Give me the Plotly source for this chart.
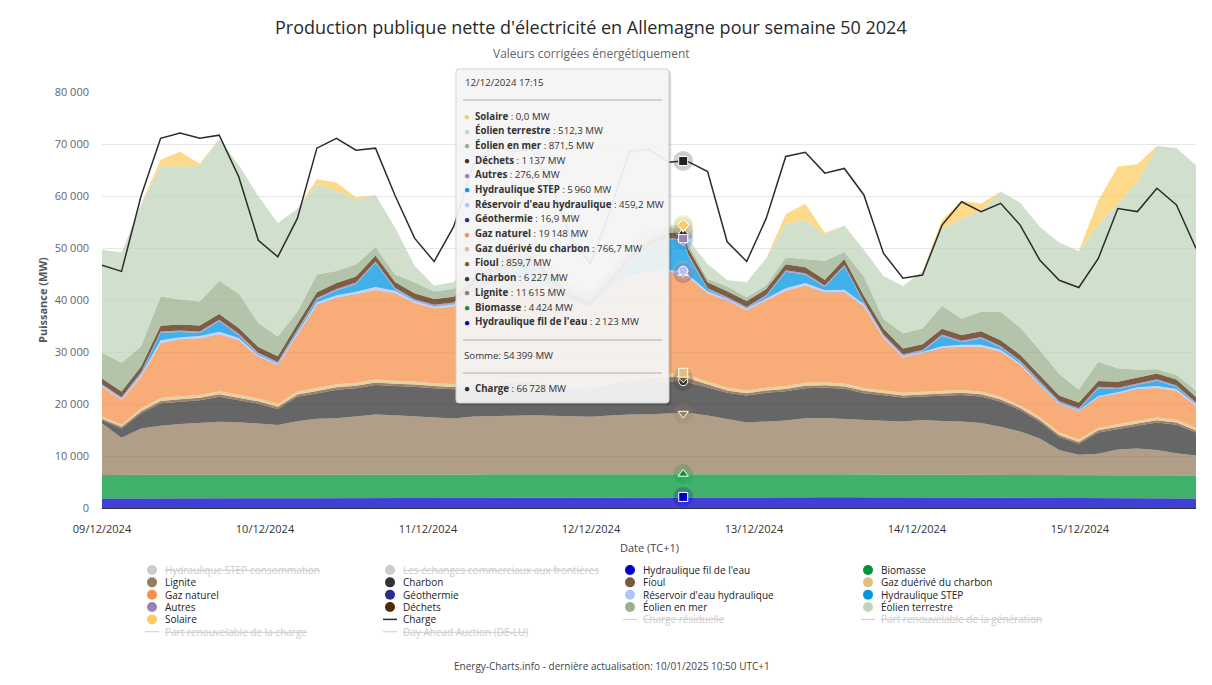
import plotly.graph_objects as go
import pandas as pd

# ---------------- data (MW) ----------------
times = list(pd.date_range("2024-12-09 00:00", "2024-12-16 00:00", freq="3h"))
times.insert(30, pd.Timestamp("2024-12-12 17:15"))
HOVER_INDEX = 30

ror = [1850,1840,1860,1880,1890,1880,1870,1860,1850,1850,1870,1890,1900,1900,1910,1900,1890,
       1900,1920,1960,2000,2020,2030,2040,2050,2060,2080,2100,2110,2120,
       2123.4,
       2120,2110,2100,2090,2090,2080,2070,2060,2050,2040,2020,2000,1990,1980,1970,1960,1950,1940,1930,1920,1910,1900,1890,1880,1870,1860,1850]
bio = [4480,4470,4490,4500,4510,4500,4490,4480,4470,4460,4480,4500,4510,4500,4500,4490,4480,
       4470,4460,4470,4480,4470,4460,4450,4440,4430,4440,4440,4430,4430,
       4424.4,
       4430,4420,4400,4390,4400,4410,4420,4420,4410,4400,4390,4380,4390,4400,4410,4420,4420,4410,4400,4390,4380,4390,4400,4410,4420,4420,4410]
lignite = [9950,7200,8950,9450,9750,9950,10250,10150,9950,9650,10350,10750,10850,11250,11550,11450,11250,
           11050,10850,11150,11250,11250,11350,11250,11150,11050,11250,11450,11500,11600,
           11615.4,
           11750,11250,10550,9950,10150,10350,10750,10850,10650,10450,10350,10250,10550,10350,10250,9950,9250,8350,7050,4850,3950,4150,4950,5150,4850,4250,3850]
charbon = [600,1800,2900,4300,4300,4400,4800,4200,3800,3100,4700,4900,5500,5400,5700,5600,5700,
           5600,5600,5700,5800,5900,5900,5600,5100,5000,5600,6100,6150,6240,
           6227.4,
           5860,5400,5100,5200,5500,5600,5800,5800,5800,5200,4900,4600,4500,4900,5100,5100,4800,4100,3200,2500,2100,4100,4000,4400,5300,5500,4400]
fioul = [300,300,420,450,460,450,460,450,440,430,450,460,470,460,470,460,450,
         440,450,460,470,470,480,470,460,450,470,500,750,820,
         859.7,
         800,500,460,440,450,460,470,460,470,450,430,420,420,430,440,440,430,420,400,380,370,390,400,410,420,410,400]
gazder = [400,400,520,550,560,550,560,550,540,530,550,560,570,560,570,560,550,
          540,550,560,570,570,580,570,560,550,570,600,700,740,
          766.7,
          740,600,560,540,550,560,570,560,570,550,530,520,520,530,540,540,530,520,500,480,470,490,500,510,520,510,500]
gas = [5700,4800,6100,10600,10900,10900,10900,10600,8000,7400,10900,16000,16600,17000,17200,16800,15100,
       14400,14900,16800,18100,18500,18900,17300,15400,14600,17300,19000,19400,19300,
       19148.4,
       18700,17000,16700,15400,16800,18300,18700,17300,17500,15700,10100,6800,7400,8100,8300,8600,8700,7700,6100,5400,5400,5800,5800,6100,5700,5600,4200]
geo = [17,17,17,16,17,17,17,17,17,17,17,16,17,17,17,17,17,
       17,17,17,17,16,17,17,17,17,17,17,17,17,
       16.9,
       17,17,17,17,17,16,17,17,17,17,17,17,17,17,17,17,16,17,17,17,17,17,17,17,17,17,17]
res = [250,200,350,500,450,420,550,400,300,250,400,500,520,500,600,480,350,
       300,380,450,480,470,520,450,350,300,420,480,470,460,
       459.2,
       440,400,320,280,350,480,470,420,500,400,280,220,230,380,350,370,360,330,280,230,220,300,320,330,380,340,270]
step = [0,0,200,1400,1000,600,2000,500,200,100,300,500,900,1500,4600,300,100,
        100,100,1000,2000,2000,3000,1000,200,100,500,2500,4500,5800,
        5960,
        3700,300,100,100,400,3200,1600,600,4500,200,100,100,100,2000,500,1200,400,300,200,100,100,1500,600,500,1000,400,100]
autres = [270,265,275,285,290,285,290,280,275,270,280,285,290,285,290,285,280,
          275,280,285,285,280,285,280,275,270,275,280,278,277,
          276.6,
          276,275,270,268,272,280,285,282,285,278,270,265,266,275,280,282,280,275,270,265,262,268,272,275,278,274,268]
dechets = [1100,1090,1110,1130,1140,1130,1140,1130,1120,1110,1120,1130,1140,1135,1140,1135,1130,
           1120,1125,1135,1140,1140,1145,1140,1130,1120,1125,1135,1138,1138,
           1137.4,
           1135,1130,1120,1115,1120,1130,1135,1130,1135,1125,1115,1105,1100,1110,1120,1125,1120,1115,1110,1100,1095,1105,1110,1115,1120,1115,1105]
offshore = [4930,5530,3930,5630,4830,4630,6330,6630,4630,3830,2330,3430,2330,2330,1630,1430,2100,
            1430,1530,1500,1400,1300,1200,1200,1100,1000,1000,900,900,900,
            871.5,
            800,630,930,730,730,1330,1630,3630,1330,3730,1830,2930,3030,4430,3130,3730,5430,5230,4930,4130,2530,3730,2630,1500,830,930,1230]
onshore = [19800,21200,27300,25000,25600,26100,27300,24700,24400,21800,19800,17300,15400,12500,10000,9000,3200,
           1100,1300,1500,1200,1000,900,1000,900,800,700,600,500,500,
           512.3,
           900,2900,1200,2900,5200,6400,7400,5100,5100,5100,8300,9100,11000,14800,19200,19500,23200,24000,23700,25300,26600,26300,31700,36100,42900,43600,43300]
solar = [0,0,0,1300,2800,400,0,0,0,0,0,1000,1600,400,0,0,0,
         0,0,0,1000,300,0,0,0,0,0,800,500,0,
         0,
         0,0,0,0,0,1900,3200,300,0,0,0,0,0,1700,3500,1300,0,0,0,0,0,4700,7100,3400,0,0,0]
load = [46700,45500,60000,71100,72100,71100,71700,63700,51500,48300,55700,69200,71100,68800,69200,60100,51900,
        47400,54100,66000,69500,68500,69000,62000,52000,47000,57000,68500,69000,66500,
        66728,
        66600,64700,51200,47400,55700,67600,68400,64400,65300,60200,49000,44200,44800,54400,58900,57000,58600,54400,47700,43800,42400,48000,57600,57000,61500,58300,49900]

tick_labels = ["09/12/2024", "10/12/2024", "11/12/2024", "12/12/2024",
               "13/12/2024", "14/12/2024", "15/12/2024"]
y_ticks = [0, 10000, 20000, 30000, 40000, 50000, 60000, 70000, 80000]

# stacking order bottom -> top : (name, values, colour, hover symbol)
series = [
    ("Hydraulique fil de l'eau", ror, "#0000c8", "square"),
    ("Biomasse", bio, "#01953a", "triangle-up"),
    ("Lignite", lignite, "#967e60", "triangle-down"),
    ("Charbon", charbon, "#333333", "circle"),
    ("Fioul", fioul, "#7a5a3c", "diamond"),
    ("Gaz duérivé du charbon", gazder, "#e0c080", "square"),
    ("Gaz naturel", gas, "#f5914b", "triangle-up"),
    ("Géothermie", geo, "#2c2c8c", "triangle-down"),
    ("Réservoir d'eau hydraulique", res, "#aec4ff", "circle"),
    ("Hydraulique STEP", step, "#0095e0", "diamond"),
    ("Autres", autres, "#9a80b8", "square"),
    ("Déchets", dechets, "#4d2a08", "triangle-up"),
    ("Éolien en mer", offshore, "#9bb08d", "triangle-down"),
    ("Éolien terrestre", onshore, "#c0d5bb", "circle"),
    ("Solaire", solar, "#fccc63", "diamond"),
]
LOAD_COLOR = "#2b2b2b"

# ---------------- geometry helpers ----------------
# the page body has an 8 px margin, so the figure is laid out 8 px smaller
PAGE_OFF = 8
PLOT_L, PLOT_R, PLOT_T, PLOT_B = 102, 1196, 92, 508   # plot area on the page
W, H = 1212 - 2 * PAGE_OFF, 685 - 2 * PAGE_OFF
ML = PLOT_L - PAGE_OFF
MT = PLOT_T - PAGE_OFF
MR = W - (PLOT_R - PAGE_OFF)
MB = H - (PLOT_B - PAGE_OFF)
PW, PH = PLOT_R - PLOT_L, PLOT_B - PLOT_T
FONT = "Open Sans"


def fx(x):
    return (x - PLOT_L) / PW


def fy(y):
    return (PLOT_B - y) / PH


def rgba(hexc, a):
    h = hexc.lstrip("#")
    r, g, b = int(h[0:2], 16), int(h[2:4], 16), int(h[4:6], 16)
    return f"rgba({r},{g},{b},{a})"


fig = go.Figure()

for name, vals, col, sym in series:
    fig.add_trace(go.Scatter(
        x=times, y=vals, name=name, stackgroup="gen", mode="lines",
        line=dict(width=0, color=col), fillcolor=rgba(col, 0.75),
        hoverinfo="skip", showlegend=False))

fig.add_trace(go.Scatter(x=times, y=load, name="Charge", mode="lines",
                         line=dict(color=LOAD_COLOR, width=1.5),
                         hoverinfo="skip", showlegend=False))

# hover markers at the tooltip time (stack tops)
hx = times[HOVER_INDEX]
cum = 0
mk_y, mk_c, mk_s = [], [], []
for name, vals, col, sym in series:
    cum += vals[HOVER_INDEX]
    mk_y.append(cum)
    mk_c.append(col)
    mk_s.append(sym)
mk_y.append(load[HOVER_INDEX])
mk_c.append("#222222")
mk_s.append("square")
fig.add_trace(go.Scatter(x=[hx] * len(mk_y), y=mk_y, mode="markers",
                         marker=dict(size=20, color=[rgba(c, 0.22) for c in mk_c],
                                     symbol="circle", line=dict(width=0)),
                         hoverinfo="skip", showlegend=False))
fig.add_trace(go.Scatter(x=[hx] * len(mk_y), y=mk_y, mode="markers",
                         marker=dict(size=9, color=mk_c, symbol=mk_s,
                                     line=dict(width=1, color="white")),
                         hoverinfo="skip", showlegend=False))

shapes = []
annotations = []


def text(x, y, s, size=11, color="#333333", anchor="left", **kw):
    annotations.append(dict(x=fx(x), y=fy(y), xref="paper", yref="paper", text=s,
                            showarrow=False, xanchor=anchor, yanchor="middle",
                            font=dict(family=FONT, size=size, color=color), **kw))


# titles
text(591, 27, "Production publique nette d'électricité en Allemagne pour semaine 50 2024",
     size=18, color="#2a2a2a", anchor="center")
text(591, 53, "Valeurs corrigées énergétiquement", size=12, color="#666666", anchor="center")
text(42, 300, "<b>Puissance (MW)</b>", size=11, color="#555555", anchor="center", textangle=-90)
text(649, 547, "Date (TC+1)", size=11, color="#444444", anchor="center")
text(612, 666, "Energy-Charts.info - dernière actualisation: 10/01/2025 10:50 UTC+1",
     size=10, color="#444444", anchor="center")

# ---------------- legend (manual, 4 columns) ----------------
color_of = {n: c for n, v, c, s in series}
HID = "#cccccc"
legend_items = [
    ("Hydraulique STEP consommation", "dot", None),
    ("Les échanges commerciaux aux frontières", "dot", None),
    ("Hydraulique fil de l'eau", "dot", color_of["Hydraulique fil de l'eau"]),
    ("Biomasse", "dot", color_of["Biomasse"]),
    ("Lignite", "dot", color_of["Lignite"]),
    ("Charbon", "dot", color_of["Charbon"]),
    ("Fioul", "dot", color_of["Fioul"]),
    ("Gaz duérivé du charbon", "dot", color_of["Gaz duérivé du charbon"]),
    ("Gaz naturel", "dot", color_of["Gaz naturel"]),
    ("Géothermie", "dot", color_of["Géothermie"]),
    ("Réservoir d'eau hydraulique", "dot", color_of["Réservoir d'eau hydraulique"]),
    ("Hydraulique STEP", "dot", color_of["Hydraulique STEP"]),
    ("Autres", "dot", color_of["Autres"]),
    ("Déchets", "dot", color_of["Déchets"]),
    ("Éolien en mer", "dot", color_of["Éolien en mer"]),
    ("Éolien terrestre", "dot", color_of["Éolien terrestre"]),
    ("Solaire", "dot", color_of["Solaire"]),
    ("Charge", "line", LOAD_COLOR),
    ("Charge résiduelle", "line", None),
    ("Part renouvelable de la génération", "line", None),
    ("Part renouvelable de la charge", "line", None),
    ("Day Ahead Auction (DE-LU)", "line", None),
]
col_x = [152, 390, 630, 868]
row_y0, row_dy = 570, 12.35
for k, (lab, kind, col) in enumerate(legend_items):
    cx = col_x[k % 4]
    cy = row_y0 + row_dy * (k // 4)
    c = col if col else HID
    if kind == "dot":
        shapes.append(dict(type="circle", xref="paper", yref="paper",
                           x0=fx(cx - 5), x1=fx(cx + 5), y0=fy(cy + 5), y1=fy(cy - 5),
                           fillcolor=c, line=dict(width=0), layer="above"))
    else:
        shapes.append(dict(type="line", xref="paper", yref="paper",
                           x0=fx(cx - 7), x1=fx(cx + 7), y0=fy(cy), y1=fy(cy),
                           line=dict(color=c, width=1.5 if col else 1), layer="above"))
    s = lab if col else f"<s>{lab}</s>"
    text(cx + 11, cy, s, size=10, color="#222222" if col else HID)

# ---------------- tooltip ----------------
def fmt(v):
    if abs(v) < 1000:
        return f"{v:.1f}".replace(".", ",")
    return f"{round(v):,}".replace(",", "\u2009")


bx0, bx1, by0, by1, r = 456, 669, 69, 403, 3


def rounded(x0, y0, x1, y1, rr):
    p = [(x0 + rr, y0), (x1 - rr, y0), (x1, y0 + rr), (x1, y1 - rr), (x1 - rr, y1),
         (x0 + rr, y1), (x0, y1 - rr), (x0, y0 + rr)]
    q = [(x1, y0), (x1, y1), (x0, y1), (x0, y0)]
    d = f"M {fx(p[0][0])},{fy(p[0][1])} L {fx(p[1][0])},{fy(p[1][1])} "
    d += f"Q {fx(q[0][0])},{fy(q[0][1])} {fx(p[2][0])},{fy(p[2][1])} "
    d += f"L {fx(p[3][0])},{fy(p[3][1])} Q {fx(q[1][0])},{fy(q[1][1])} {fx(p[4][0])},{fy(p[4][1])} "
    d += f"L {fx(p[5][0])},{fy(p[5][1])} Q {fx(q[2][0])},{fy(q[2][1])} {fx(p[6][0])},{fy(p[6][1])} "
    d += f"L {fx(p[7][0])},{fy(p[7][1])} Q {fx(q[3][0])},{fy(q[3][1])} {fx(p[0][0])},{fy(p[0][1])} Z"
    return d


for off, a in [(3, 0.05), (2, 0.07), (1, 0.09)]:
    shapes.append(dict(type="path", xref="paper", yref="paper",
                       path=rounded(bx0 + off, by0 + off, bx1 + off, by1 + off, r),
                       fillcolor=f"rgba(0,0,0,{a})", line=dict(width=0), layer="above"))
shapes.append(dict(type="path", xref="paper", yref="paper", path=rounded(bx0, by0, bx1, by1, r),
                   fillcolor="rgba(247,247,247,0.93)", line=dict(color="#cfcfcf", width=1),
                   layer="above"))
for yy in (100, 340, 373):
    shapes.append(dict(type="line", xref="paper", yref="paper", x0=fx(463), x1=fx(662),
                       y0=fy(yy), y1=fy(yy), line=dict(color="#b0b0b0", width=1.2),
                       layer="above"))

TT = 9.7
text(463, 83, hx.strftime("%d/%m/%Y %H:%M"), size=TT)
ty = 116
total = 0
for name, vals, col, sym in reversed(series):
    v = vals[HOVER_INDEX]
    total += v
    text(466.5, ty, "●", size=10, color=col, anchor="center")
    text(473, ty, f"<b>{name}</b> : {fmt(v)} MW", size=TT)
    ty += 14.7
text(462, 355, f"Somme: {fmt(total)} MW", size=TT)
text(466.5, 388, "●", size=10, color=LOAD_COLOR, anchor="center")
text(473, 388, f"<b>Charge</b> : {fmt(load[HOVER_INDEX])} MW", size=TT)

# ---------------- axes / layout ----------------
tickvals = [times[0] + pd.Timedelta(hours=25.03 * i) for i in range(len(tick_labels))]

fig.update_layout(
    width=W, height=H,
    margin=dict(l=ML, r=MR, t=MT, b=MB),
    paper_bgcolor="white", plot_bgcolor="white",
    separators=", ",
    font=dict(family=FONT, size=11, color="#333333"),
    showlegend=False,
    shapes=shapes, annotations=annotations,
    xaxis=dict(type="date", range=[times[0], times[-1]], tickvals=tickvals, ticktext=tick_labels,
               showgrid=False, zeroline=False, showline=True, linecolor="#333333", linewidth=1,
               ticks="", tickfont=dict(family=FONT, size=11, color="#333333"),
               ticklabelstandoff=11, fixedrange=True),
    yaxis=dict(range=[0, 80000], tickvals=y_ticks, tickformat=",d",
               showgrid=True, gridcolor="#e6e6e6", gridwidth=1, zeroline=False,
               showline=False, ticks="", tickfont=dict(family=FONT, size=11, color="#666666"),
               ticklabelstandoff=12, fixedrange=True),
)

fig.write_html("out.html")
